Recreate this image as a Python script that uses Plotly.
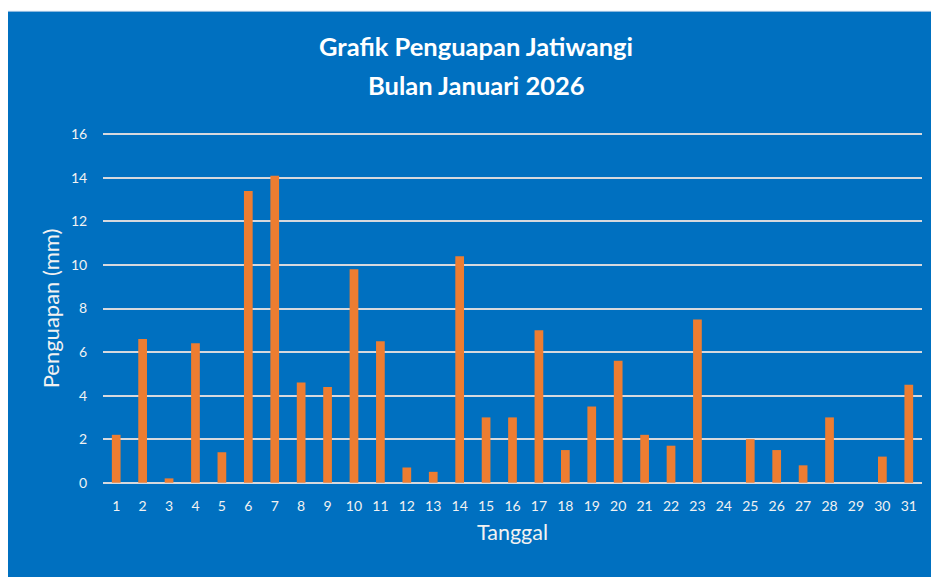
import plotly.graph_objects as go

tanggal = [str(i) for i in range(1, 32)]
penguapan = [2.2, 6.6, 0.2, 6.4, 1.4, 13.4, 14.1, 4.6, 4.4, 9.8, 6.5, 0.7, 0.5, 10.4, 3.0,
             3.0, 7.0, 1.5, 3.5, 5.6, 2.2, 1.7, 7.5, 0.0, 2.0, 1.5, 0.8, 3.0, 0.0, 1.2, 4.5]
y_ticks = [0, 2, 4, 6, 8, 10, 12, 14, 16]
title_lines = ["Grafik Penguapan Jatiwangi", "Bulan Januari 2026"]

BLUE = "#0070C0"
ORANGE = "#ED7D31"
FONT = "Lato"
OFF = 8  # page body margin

fig = go.Figure(go.Bar(x=tanggal, y=penguapan, marker_color=ORANGE,
                       marker_line_width=0, width=0.33))

PAD = 0.15  # data units of padding so edge gridlines are drawn
PXU = (482.7 - 134.7) / 16.0
W, H = 939 - OFF, 577 - OFF
L, R = 103 - OFF, W - (922 - OFF)
T = 134.7 - OFF - PAD * PXU
Bm = H - (482.7 - OFF + PAD * PXU)
pw = W - L - R
ph = H - T - Bm

def px_x(x):  # screenshot px -> paper
    return (x - OFF - L) / pw

def px_y(y):
    return (H - Bm - (y - OFF)) / ph

fig.add_shape(type="rect", xref="paper", yref="paper",
              x0=px_x(7), x1=px_x(W + 60), y0=px_y(H + 60), y1=px_y(12),
              fillcolor=BLUE, line=dict(color="#8DB8DF", width=1), layer="below")

for txt, yy in zip(title_lines, [47, 85]):
    fig.add_annotation(xref="paper", yref="paper", x=px_x(476), y=px_y(yy),
                       xanchor="center", yanchor="middle",
                       text="<b>" + txt + "</b>", showarrow=False,
                       font=dict(family=FONT, size=25.5, color="white"))

fig.update_layout(
    width=W, height=H,
    margin=dict(l=L, r=R, t=T, b=Bm),
    paper_bgcolor="white", plot_bgcolor="rgba(0,0,0,0)",
    showlegend=False,
    font=dict(family=FONT, color="#F2F2F2"),
)
fig.update_xaxes(type="category", showgrid=False, zeroline=False, showline=False,
                 tickfont=dict(size=14, color="#F2F2F2"), ticks="outside", ticklen=7,
                 tickcolor="rgba(0,0,0,0)",
                 title=dict(text="Tanggal", font=dict(size=21.5, color="#F2F2F2"), standoff=12))
fig.update_yaxes(range=[-PAD, 16 + PAD], tickvals=y_ticks, showgrid=True, gridcolor="#D6D9DE",
                 gridwidth=2, zeroline=False, showline=False,
                 tickfont=dict(size=14, color="#F2F2F2"), ticks="outside", ticklen=12,
                 tickcolor="rgba(0,0,0,0)",
                 title=dict(text="Penguapan (mm)", font=dict(size=22, color="#F2F2F2"), standoff=5))

fig.write_html("out.html")
